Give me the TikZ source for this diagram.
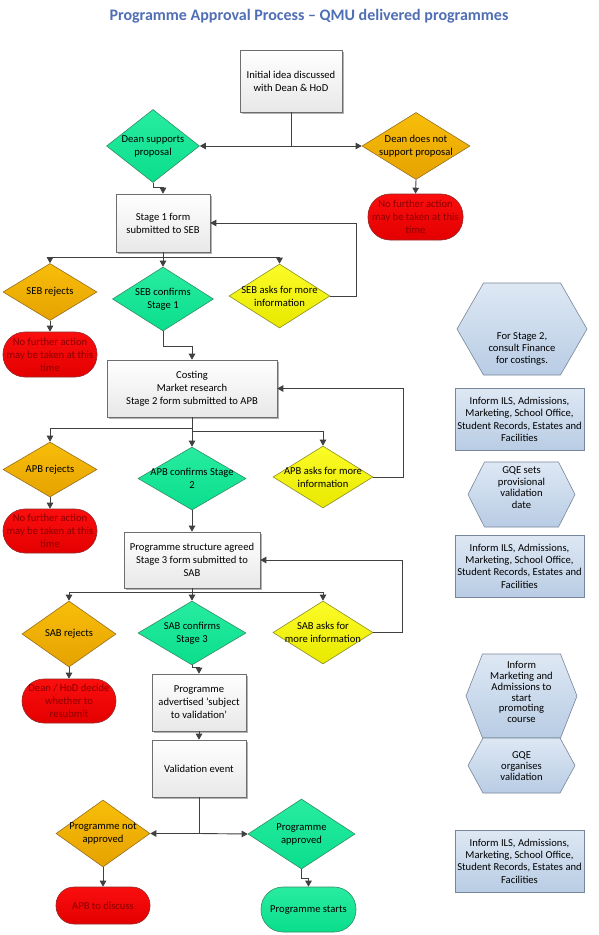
\documentclass[tikz,border=0pt]{standalone}
\usepackage{fontspec}
\setmainfont{Carlito}
\usepackage{tikz}
\usetikzlibrary{shapes.geometric,arrows.meta,calc,shadows}

\definecolor{titleblue}{RGB}{79,110,180}
\definecolor{linegray}{RGB}{64,64,64}
\definecolor{boxline}{RGB}{110,110,110}
\definecolor{boxbottom}{RGB}{232,232,232}
\definecolor{greentop}{RGB}{40,236,160}
\definecolor{greenbot}{RGB}{10,222,140}
\definecolor{greenline}{RGB}{50,140,100}
\definecolor{orangetop}{RGB}{248,190,10}
\definecolor{orangebot}{RGB}{230,162,0}
\definecolor{orangeline}{RGB}{150,110,30}
\definecolor{yellowtop}{RGB}{252,252,40}
\definecolor{yellowbot}{RGB}{232,232,0}
\definecolor{yellowline}{RGB}{140,140,40}
\definecolor{redtop}{RGB}{250,14,14}
\definecolor{redbot}{RGB}{228,0,0}
\definecolor{redline}{RGB}{150,40,40}
\definecolor{redtext}{RGB}{140,0,0}
\definecolor{infotop}{RGB}{222,232,244}
\definecolor{infobot}{RGB}{184,204,228}
\definecolor{infoline}{RGB}{120,134,155}

\tikzset{
  flowtext/.style={font=\fontsize{10.6}{13}\selectfont, align=center, inner sep=0pt},
  procbox/.style={rectangle, draw=boxline, line width=0.6pt, top color=white, bottom color=boxbottom,
    drop shadow={shadow xshift=1.5pt, shadow yshift=-1.5pt, opacity=0.3, fill=black},
    flowtext},
  decision/.style={diamond, inner sep=0pt, line width=0.6pt},
  decgreen/.style={decision, draw=greenline, top color=greentop, bottom color=greenbot},
  decorange/.style={decision, draw=orangeline, top color=orangetop, bottom color=orangebot},
  decyellow/.style={decision, draw=yellowline, top color=yellowtop, bottom color=yellowbot},
  stopred/.style={rectangle, rounded corners=22pt, line width=0.6pt, draw=redline,
    top color=redtop, bottom color=redbot, text=redtext, flowtext},
  stopgreen/.style={rectangle, rounded corners=22pt, line width=0.6pt, draw=greenline,
    top color=greentop, bottom color=greenbot, flowtext},
  infobox/.style={rectangle, draw=infoline, line width=0.6pt, top color=infotop, bottom color=infobot,
    minimum width=129pt, minimum height=62pt, flowtext, font=\fontsize{10.6}{12.3}\selectfont},
  infoshape/.style={draw=infoline, line width=0.6pt, top color=infotop, bottom color=infobot},
  joinline/.style={draw=linegray, line width=0.9pt},
  arrowline/.style={joinline, -{Triangle[width=6.5pt,length=6pt]}},
}

% hexagon round a centre: centre, half width, half height, inset of the flat edges
\newcommand{\infohex}[4]{%
  \draw[infoshape] ($(#1)+(-#2,0)$) -- ($(#1)+(-#2+#4,-#3)$) -- ($(#1)+(#2-#4,-#3)$)
    -- ($(#1)+(#2,0)$) -- ($(#1)+(#2-#4,#3)$) -- ($(#1)+(-#2+#4,#3)$) -- cycle;}

\begin{document}
\begin{tikzpicture}[x=1pt,y=-1pt]
  \fill[white] (0,0) rectangle (598,935);
  \useasboundingbox (0,0) rectangle (598,935);

  \node[font=\fontsize{16}{19}\selectfont\bfseries, text=titleblue] (title) at (309,16)
    {Programme Approval Process – QMU delivered programmes};

  % start and dean
  \node[procbox, minimum width=102pt, minimum height=62pt] (idea) at (291,81)
    {Initial idea discussed\\with Dean \& HoD};
  \node[decgreen, minimum width=93pt, minimum height=73pt,
    label={[flowtext]center:{Dean supports\\proposal}}] (deanyes) at (153,146) {};
  \node[decorange, minimum width=108pt, minimum height=67pt,
    label={[flowtext]center:{Dean does not\\support proposal}}] (deanno) at (416,146) {};
  \node[stopred, minimum width=95pt, minimum height=46pt] (stopA) at (415.5,217)
    {No further action\\may be taken at this\\time};

  % stage 1
  \node[procbox, minimum width=94pt, minimum height=58pt] (stageA) at (163,223)
    {Stage 1 form\\submitted to SEB};
  \node[decorange, minimum width=94pt, minimum height=57pt,
    label={[flowtext]center:{SEB rejects}}] (sebno) at (50,292) {};
  \node[decgreen, minimum width=101pt, minimum height=64pt,
    label={[flowtext]center:{SEB confirms\\Stage 1}}] (sebyes) at (163,299) {};
  \node[decyellow, minimum width=101pt, minimum height=64pt,
    label={[flowtext]center:{SEB asks for more\\information}}] (sebinfo) at (279.5,296) {};
  \node[stopred, minimum width=94pt, minimum height=45pt] (stopB) at (50,354.5)
    {No further action\\may be taken at this\\time};

  % stage 2
  \node[procbox, minimum width=170pt, minimum height=57pt] (stageB) at (192,388.5)
    {Costing\\Market research\\Stage 2 form submitted to APB};
  \node[decorange, minimum width=94pt, minimum height=55pt,
    label={[flowtext]center:{APB rejects}}] (apbno) at (50,469.5) {};
  \node[decgreen, minimum width=108pt, minimum height=63pt,
    label={[flowtext]center:{APB confirms Stage\\2}}] (apbyes) at (192,478.5) {};
  \node[decyellow, minimum width=100pt, minimum height=62pt,
    label={[flowtext]center:{APB asks for more\\information}}] (apbinfo) at (323,477) {};
  \node[stopred, minimum width=94pt, minimum height=44pt] (stopC) at (50,531)
    {No further action\\may be taken at this\\time};

  % stage 3
  \node[procbox, minimum width=136pt, minimum height=56pt] (stageC) at (192,560)
    {Programme structure agreed\\Stage 3 form submitted to\\SAB};
  \node[decorange, minimum width=94pt, minimum height=66pt,
    label={[flowtext]center:{SAB rejects}}] (sabno) at (69,634) {};
  \node[decgreen, minimum width=108pt, minimum height=64pt,
    label={[flowtext]center:{SAB confirms\\Stage 3}}] (sabyes) at (192,633) {};
  \node[decyellow, minimum width=100pt, minimum height=63pt,
    label={[flowtext]center:{SAB asks for\\more information}}] (sabinfo) at (323,632.5) {};
  \node[stopred, minimum width=94pt, minimum height=44pt] (stopD) at (69,701)
    {Dean / HoD decide\\whether to\\resubmit};

  % validation
  \node[procbox, minimum width=94pt, minimum height=57pt] (advert) at (199,702.5)
    {Programme\\advertised ‘subject\\to validation’};
  \node[procbox, minimum width=94pt, minimum height=57pt] (valid) at (199,768.5)
    {Validation event};
  \node[decorange, minimum width=94pt, minimum height=67pt,
    label={[flowtext]center:{Programme not\\approved}}] (valno) at (103,833.5) {};
  \node[decgreen, minimum width=107pt, minimum height=70pt,
    label={[flowtext]center:{Programme\\approved}}] (valyes) at (301.5,834) {};
  \node[stopred, rounded corners=18pt, minimum width=94pt, minimum height=37pt] (stopE) at (103,905.5)
    {APB to discuss};
  \node[stopgreen, minimum width=95pt, minimum height=45pt] (start) at (308.5,909.5)
    {Programme starts};

  % connectors
  \coordinate (jA) at (idea.south |- deanyes.east);
  \draw[joinline] (idea.south) -- (jA);
  \draw[arrowline] (jA) -- (deanyes.east);
  \draw[arrowline] (jA) -- (deanno.west);
  \draw[arrowline] (deanno.south) -- (stopA.north);
  \draw[arrowline] (deanyes.south) -- ++(0,5) -| (stageA.north);

  \coordinate (jB) at ($(stageA.south)+(0,5)$);
  \draw[arrowline] (stageA.south) -- (sebyes.north);
  \draw[arrowline] (jB) -| (sebno.north);
  \draw[arrowline] (jB) -| (sebinfo.north);
  \draw[arrowline] (sebinfo.east) -- ++(26,0) |- (stageA.east);
  \draw[arrowline] (sebno.south) -- (stopB.north);
  \draw[arrowline] (sebyes.south) -- ++(0,15) -| (stageB.north);

  \coordinate (jC) at ($(stageB.south)+(0,11)$);
  \coordinate (jD) at ($(stageB.south)+(0,14)$);
  \draw[arrowline] (stageB.south) -- (apbyes.north);
  \draw[arrowline] (jC) -| (apbno.north);
  \draw[arrowline] (jD) -| (apbinfo.north);
  \draw[arrowline] (apbinfo.east) -- ++(30,0) |- (stageB.east);
  \draw[arrowline] (apbno.south) -- (stopC.north);
  \draw[arrowline] (apbyes.south) -- (stageC.north);

  \coordinate (jE) at ($(stageC.south)+(0,4)$);
  \draw[arrowline] (stageC.south) -- (sabyes.north);
  \draw[arrowline] (jE) -| (sabno.north);
  \draw[arrowline] (jE) -| (sabinfo.north);
  \draw[arrowline] (sabinfo.east) -- ++(29,0) |- (stageC.east);
  \draw[arrowline] (sabno.south) -- (stopD.north);
  \draw[arrowline] (sabyes.south) -- ++(0,2) -| (advert.north);
  \draw[arrowline] (advert.south) -- (valid.north);

  \coordinate (jF) at (valid.south |- valno.east);
  \draw[joinline] (valid.south) -- (jF);
  \draw[arrowline] (jF) -- (valno.east);
  \draw[arrowline] (jF) -- (valyes.west);
  \draw[arrowline] (valno.south) -- (stopE.north);
  \draw[arrowline] (valyes.south) -- ++(0,9) -| (start.north);

  % notes on the right
  \coordinate (hexAc) at (522,329);
  \coordinate (hexBc) at (521.5,494.5);
  \coordinate (hexCc) at (521.5,696);
  \coordinate (hexDc) at (521.5,765.5);
  \infohex{hexAc}{65}{46}{26.5}
  \infohex{hexBc}{53.5}{32.5}{16.5}
  \infohex{hexCc}{55.5}{42}{16.5}
  \infohex{hexDc}{53.5}{27.5}{15}
  \node[flowtext, font=\fontsize{10.6}{11.8}\selectfont] (hexA) at (522,349)
    {For Stage 2,\\consult Finance\\for costings.};
  \node[flowtext, font=\fontsize{10.6}{11.7}\selectfont] (hexB) at (521.5,487.5)
    {GQE sets\\provisional\\validation\\date};
  \node[flowtext, font=\fontsize{10.6}{10.8}\selectfont] (hexC) at (521.5,692)
    {Inform\\Marketing and\\Admissions to\\start\\promoting\\course};
  \node[flowtext, font=\fontsize{10.6}{11}\selectfont] (hexD) at (521.5,766)
    {GQE\\organises\\validation};

  \node[infobox] (infoA) at (519.5,419.5)
    {Inform ILS, Admissions,\\Marketing, School Office,\\Student Records, Estates and\\Facilities};
  \node[infobox] (infoB) at (519.5,566)
    {Inform ILS, Admissions,\\Marketing, School Office,\\Student Records, Estates and\\Facilities};
  \node[infobox] (infoC) at (519.5,861)
    {Inform ILS, Admissions,\\Marketing, School Office,\\Student Records, Estates and\\Facilities};
\end{tikzpicture}
\end{document}
